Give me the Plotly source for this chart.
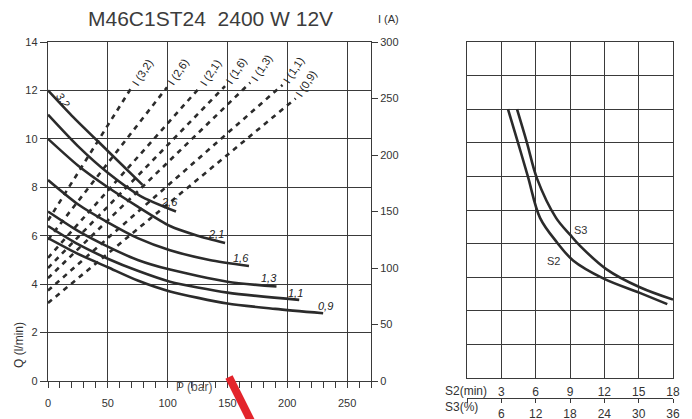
import plotly.graph_objects as go

W, H = 692, 419
FONT = "Liberation Sans, Arial, sans-serif"
INK = "#2b2b2b"
GRID = "#3a3a3a"

# ---- flow curves Q (l/min) against pressure P (bar), one per displacement ----
curve_labels = ["3,2", "2,6", "2,1", "1,6", "1,3", "1,1", "0,9"]
p_32 = [0, 20, 50, 79]
q_32 = [12.0, 10.95, 9.5, 8.1]
p_26 = [0, 25, 50, 77, 107]
q_26 = [11.0, 9.7, 8.6, 7.65, 7.0]
p_21 = [0, 25, 50, 75, 102, 125, 148]
q_21 = [10.0, 8.9, 8.0, 7.2, 6.4, 6.0, 5.7]
p_16 = [0, 25, 50, 75, 102, 135, 168]
q_16 = [8.3, 7.3, 6.55, 5.9, 5.4, 5.0, 4.75]
p_13 = [0, 25, 50, 75, 102, 150, 191]
q_13 = [7.0, 6.2, 5.55, 5.0, 4.6, 4.1, 3.9]
p_11 = [0, 25, 50, 75, 102, 150, 210]
q_11 = [6.4, 5.65, 5.05, 4.55, 4.1, 3.65, 3.35]
p_09 = [0, 25, 50, 75, 102, 150, 190, 230]
q_09 = [5.9, 5.25, 4.7, 4.15, 3.7, 3.2, 2.98, 2.8]
curves_p = [p_32, p_26, p_21, p_16, p_13, p_11, p_09]
curves_q = [q_32, q_26, q_21, q_16, q_13, q_11, q_09]

# ---- current lines I (A) against pressure P (bar) ----
current_labels = ["I (3,2)", "I (2,6)", "I (2,1)", "I (1,6)", "I (1,3)", "I (1,1)", "I (0,9)"]
current_p_end = [70, 99.5, 127, 148, 169, 196, 207]
current_i_start = [142, 125, 109, 100, 91, 80, 69]
current_i_end = [260, 260, 260, 261, 264, 262, 250]

# ---- duty curves: current (A) against S2 time (min) ----
s2_time = [3.58, 4.46, 5.33, 6.38, 7.87, 9.27, 11.9, 15.1, 17.5]
s2_current = [240, 210, 179.5, 143, 121, 105, 89, 76, 66]
s3_time = [4.37, 5.24, 6.12, 7.78, 9.0, 9.88, 12.2, 15.1, 18.0]
s3_current = [240, 210, 178, 143, 128, 118, 97, 81, 70]

s2_ticks = [0, 3, 6, 9, 12, 15, 18]
s2_ticktext = ["", "3", "6", "9", "12", "15", "18"]
s3_ticktext = ["", "6", "12", "18", "24", "30", "36"]


def px_x(px):
    return px / W


def px_y(py):
    return 1 - py / H


fig = go.Figure()

for p, q in zip(curves_p, curves_q):
    fig.add_trace(go.Scatter(x=p, y=q, mode="lines", line=dict(color=INK, width=2.6, shape="spline", smoothing=0.7),
                             xaxis="x", yaxis="y", hoverinfo="skip", showlegend=False))

for pe, i0, i1 in zip(current_p_end, current_i_start, current_i_end):
    fig.add_trace(go.Scatter(x=[0, pe], y=[i0, i1], mode="lines", line=dict(color=INK, width=2.6, dash="5px,5px"),
                             xaxis="x", yaxis="y3", hoverinfo="skip", showlegend=False))

for t, c in ((s2_time, s2_current), (s3_time, s3_current)):
    fig.add_trace(go.Scatter(x=t, y=c, mode="lines", line=dict(color=INK, width=2.6, shape="spline", smoothing=1.0),
                             xaxis="x2", yaxis="y2", hoverinfo="skip", showlegend=False))
# anchors for the S2/S3 scale axes
for ax in ("x3", "x4"):
    fig.add_trace(go.Scatter(x=[0], y=[0], mode="markers", opacity=0, xaxis=ax, yaxis="y2",
                             hoverinfo="skip", showlegend=False))

tickfont = dict(family=FONT, size=11, color="#333")
left_dom_y = [px_y(381), px_y(42)]
right_dom_y = [px_y(378), px_y(42)]

fig.update_layout(
    width=W, height=H, margin=dict(l=0, r=0, t=0, b=0, pad=0, autoexpand=False),
    paper_bgcolor="white", plot_bgcolor="white", showlegend=False,
    xaxis=dict(domain=[px_x(48), px_x(371)], range=[0, 270], tickvals=[0, 50, 100, 150, 200, 250],
               showgrid=True, gridcolor=GRID, gridwidth=1.3, zeroline=False,
               showline=True, mirror=True, linecolor=GRID, linewidth=1.4,
               ticks="outside", ticklen=6, tickcolor=GRID, tickwidth=1.2, ticklabelstandoff=6,
               minor=dict(dtick=10, ticks="outside", ticklen=6, tickcolor=GRID, tickwidth=1.2, showgrid=False),
               tickfont=tickfont, anchor="y", fixedrange=True, automargin=False),
    yaxis=dict(domain=left_dom_y, range=[0, 14], dtick=2,
               showgrid=True, gridcolor=GRID, gridwidth=1.3, zeroline=False,
               showline=True, mirror=True, linecolor=GRID, linewidth=1.4,
               ticks="outside", ticklen=7, tickcolor=GRID, tickwidth=1.2,
               tickfont=tickfont, anchor="x", fixedrange=True, automargin=False),
    yaxis3=dict(overlaying="y", side="right", anchor="x", range=[0, 300], dtick=50,
                showgrid=False, zeroline=False, showline=False,
                ticks="outside", ticklen=6, tickcolor=GRID, tickwidth=1.2,
                tickfont=tickfont, fixedrange=True, automargin=False),
    xaxis2=dict(domain=[px_x(467), px_x(673)], range=[0, 18], dtick=3, anchor="y2",
                showgrid=True, gridcolor=GRID, gridwidth=1.3, zeroline=False,
                showline=True, mirror=True, linecolor=GRID, linewidth=1.4,
                showticklabels=False, ticks="", fixedrange=True, automargin=False),
    yaxis2=dict(domain=right_dom_y, range=[0, 300], dtick=30, anchor="x2",
                showgrid=True, gridcolor=GRID, gridwidth=1.3, zeroline=False,
                showline=True, mirror=True, linecolor=GRID, linewidth=1.4,
                showticklabels=False, ticks="", fixedrange=True, automargin=False),
    xaxis3=dict(overlaying="x2", anchor="free", position=px_y(398), side="bottom", range=[0, 18],
                tickvals=s2_ticks, ticktext=s3_ticktext, showgrid=False, zeroline=False,
                showline=True, linecolor=GRID, linewidth=1.2,
                ticks="outside", ticklen=4, tickcolor=GRID, tickwidth=1.2,
                tickfont=dict(family=FONT, size=12, color="#333"), fixedrange=True, automargin=False),
    xaxis4=dict(overlaying="x2", anchor="free", position=px_y(398), side="top", range=[0, 18],
                tickvals=s2_ticks, ticktext=s2_ticktext, showgrid=False, zeroline=False,
                showline=False, ticks="",
                tickfont=dict(family=FONT, size=12, color="#333"), fixedrange=True, automargin=False),
)


def paper_text(text, x, y, size, color="#333", angle=0, anchor="center"):
    return dict(text=text, x=px_x(x), y=px_y(y), xref="paper", yref="paper", xanchor=anchor, yanchor="middle",
                textangle=angle, showarrow=False, font=dict(family=FONT, size=size, color=color))


ann = [
    paper_text("M46C1ST24  2400 W 12V", 210, 19, 21, "#3c3c3c"),
    paper_text("I (A)", 388, 19, 11),
    paper_text("Q (l/min)", 19, 345, 12, angle=-90),
    paper_text("P (bar)", 194, 387, 12, "#555"),
    paper_text("S2(min)", 443, 391, 12, anchor="left"),
    paper_text("S3(%)", 443, 407, 12, anchor="left"),
    paper_text("S3", 580, 230, 11),
    paper_text("S2", 553, 261, 11),
]

# curve labels near the curve ends
label_shift = [(15, -10, 55), (-7, 10, 0), (-9, 9, 0), (-8, 8, 0), (-7, 9, 0), (-4, 7, 0), (2, 7, 0)]
for k, (name, p, q) in enumerate(zip(curve_labels, curves_p, curves_q)):
    dx, dy, ang = label_shift[k]
    xi, yi = (p[0], q[0]) if k == 0 else (p[-1], q[-1])
    ann.append(dict(text="<i>" + name + "</i>", x=xi, y=yi, xref="x", yref="y", xshift=dx, yshift=dy,
                    xanchor="center", yanchor="middle",
                    textangle=ang, showarrow=False, font=dict(family=FONT, size=11, color="#222")))

# current line labels at the upper ends
for name, pe, i1 in zip(current_labels, current_p_end, current_i_end):
    ann.append(dict(text=name, x=pe, y=i1, xref="x", yref="y3", xshift=11, yshift=15,
                    xanchor="center", yanchor="middle",
                    textangle=-57, showarrow=False, font=dict(family=FONT, size=11, color="#222")))

fig.update_layout(annotations=ann)

# red stroke crossing the bottom axis
fig.add_shape(type="line", xref="paper", yref="paper", x0=px_x(229), y0=px_y(377), x1=px_x(251), y1=px_y(421),
              line=dict(color="#e3242b", width=8), layer="above")

fig.write_html("out.html")
